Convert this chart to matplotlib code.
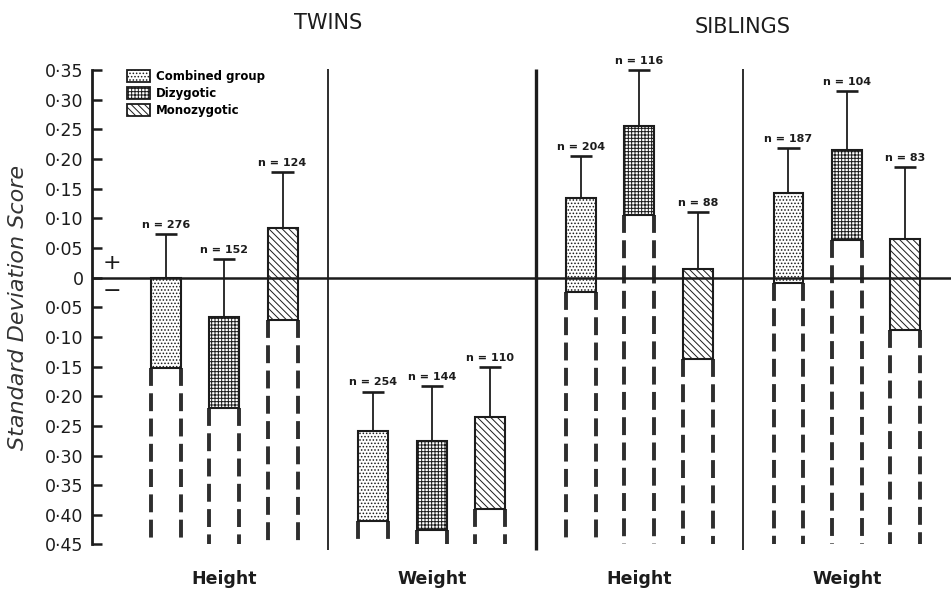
import matplotlib.pyplot as plt
import numpy as np
from matplotlib.patches import Patch
from matplotlib.transforms import blended_transform_factory

groups = ["Height", "Weight", "Height", "Weight"]
titles = ["TWINS", "SIBLINGS"]
series = ["Combined group", "Dizygotic", "Monozygotic"]

# bar bottom / bar top / top of error line, per group (twins H, twins W, sibs H, sibs W)
combined_top = [0.0, -0.258, 0.135, 0.142]
combined_bottom = [-0.152, -0.410, -0.024, -0.009]
combined_err = [0.074, -0.192, 0.205, 0.218]
combined_n = [276, 254, 204, 187]

dizygotic_top = [-0.067, -0.275, 0.255, 0.215]
dizygotic_bottom = [-0.219, -0.425, 0.106, 0.064]
dizygotic_err = [0.031, -0.183, 0.350, 0.314]
dizygotic_n = [152, 144, 116, 104]

mono_top = [0.084, -0.235, 0.014, 0.065]
mono_bottom = [-0.071, -0.390, -0.137, -0.088]
mono_err = [0.178, -0.151, 0.111, 0.187]
mono_n = [124, 110, 88, 83]

y_ticks = [0.35, 0.30, 0.25, 0.20, 0.15, 0.10, 0.05, 0.0,
           -0.05, -0.10, -0.15, -0.20, -0.25, -0.30, -0.35, -0.40, -0.45]

INK = "#1c1c1c"
plt.rcParams["hatch.linewidth"] = 0.7
plt.rcParams["hatch.color"] = INK


def tick_text(v):
    if abs(v) < 1e-9:
        return "0"
    return f"{abs(v):.2f}".replace(".", "\u00b7")


def main():
    fig = plt.figure(figsize=(9.51, 5.94), dpi=100)
    ax = fig.add_axes([0.0967, 0.0684, 0.9033, 0.8235])
    ax.set_xlim(-2.26, 12.43)
    ax.set_ylim(-0.465, 0.36)

    group_gap = 3.55
    bar_gap = 1.0
    width = 0.51
    group_x = np.arange(len(groups)) * group_gap

    data = [
        (combined_top, combined_bottom, combined_err, combined_n, "....."),
        (dizygotic_top, dizygotic_bottom, dizygotic_err, dizygotic_n, "+++++"),
        (mono_top, mono_bottom, mono_err, mono_n, "\\\\\\\\\\"),
    ]

    handles = []
    for k, (top, bottom, err, ns, hatch) in enumerate(data):
        top = np.array(top)
        bottom = np.array(bottom)
        err = np.array(err)
        x = group_x + (k - 1) * bar_gap
        ax.bar(x, top - bottom, bottom=bottom, width=width, color="white",
               edgecolor=INK, hatch=hatch, linewidth=1.5, zorder=2)
        # error line and cap
        ax.vlines(x, top, err, color=INK, linewidth=1.3, zorder=3)
        ax.hlines(err, x - 0.19, x + 0.19, color=INK, linewidth=1.9, zorder=3)
        for xi, ei, n in zip(x, err, ns):
            ax.annotate(f"n = {n}", (xi, ei), xytext=(0, 3),
                        textcoords="offset points", ha="center", va="bottom",
                        fontsize=8, fontweight="bold", color=INK)
        # dashed continuation from the bar bottom down to the axis bottom
        edges = np.concatenate([x - width / 2, x + width / 2])
        lows = np.concatenate([bottom, bottom])
        ax.vlines(edges, lows, -0.45, color="#2e2e2e", linewidth=2.8,
                  linestyles=(0, (4.6, 1.9)), zorder=1)
        handles.append(Patch(facecolor="white", edgecolor=INK, hatch=hatch,
                             linewidth=1.3, label=series[k]))

    # zero line
    ax.axhline(0, color=INK, linewidth=1.8, zorder=4)

    # group separators
    seps = (group_x[:-1] + group_x[1:]) / 2
    for i, sx in enumerate(seps):
        ax.vlines(sx, -0.46, 0.352, color=INK,
                  linewidth=2.4 if i == 1 else 1.3, zorder=1)

    # axis styling
    for side in ["top", "right", "bottom"]:
        ax.spines[side].set_visible(False)
    ax.spines["left"].set_bounds(-0.45, 0.35)
    ax.spines["left"].set_linewidth(2)
    ax.spines["left"].set_color(INK)
    ax.set_xticks([])
    ax.set_yticks(y_ticks)
    ax.set_yticklabels([tick_text(v) for v in y_ticks])
    ax.tick_params(axis="y", direction="in", length=7, width=1.8,
                   labelsize=12.5, pad=6, colors=INK)

    # group labels and titles
    trans = blended_transform_factory(ax.transData, fig.transFigure)
    for gx, name in zip(group_x, groups):
        fig.text(gx, 0.01, name, transform=trans, ha="center", va="bottom",
                 fontsize=12.5, fontweight="bold", color=INK)
    fig.text(seps[0], 0.962, titles[0], transform=trans, ha="center",
             va="center", fontsize=15, fontweight="medium", color=INK)
    fig.text(seps[2], 0.955, titles[1], transform=trans, ha="center",
             va="center", fontsize=15, fontweight="medium", color=INK)

    # +/- signs near zero
    ax.text(-1.92, 0.025, "+", fontsize=16, ha="center", va="center", color=INK)
    ax.text(-1.92, -0.022, "\u2212", fontsize=16, ha="center", va="center",
            color=INK)

    fig.text(0.019, 0.483, "Standard Deviation Score", rotation=90,
             fontsize=16, style="italic", ha="center", va="center", color="#333")

    ax.legend(handles=handles, loc="upper left", bbox_to_anchor=(0.0407, 0.988),
              frameon=False, prop={"size": 8.5, "weight": "bold"},
              handlelength=1.95, handleheight=1.15,
              handletextpad=0.5, labelspacing=0.35, borderpad=0,
              borderaxespad=0)

    fig.savefig("out.png", dpi=100)
    plt.close(fig)


if __name__ == "__main__":
    main()
